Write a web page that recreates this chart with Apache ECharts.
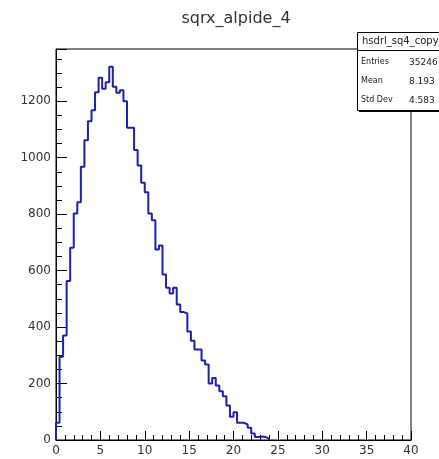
<!DOCTYPE html>
<html>
<head>
<meta charset="utf-8">
<script src="https://cdn.jsdelivr.net/npm/echarts@6/dist/echarts.min.js"></script>
<style>
  html, body { margin: 0; padding: 0; background: #fff; }
  #chart { width: 439px; height: 459px; }
</style>
</head>
<body>
<div id="chart"></div>
<script>
// histogram binning
const binLow = 0
const binWidth = 0.4
// bin contents, bins 0..59 (the rest are empty)
const counts = [
  61, 295, 370, 563, 681, 802, 842, 968, 1062, 1129,
  1168, 1232, 1283, 1244, 1267, 1322, 1251, 1230, 1239, 1200,
  1106, 1106, 1027, 972, 911, 878, 802, 778, 675, 689,
  586, 539, 519, 539, 480, 453, 448, 384, 352, 321,
  321, 282, 267, 200, 220, 193, 173, 155, 122, 82,
  98, 61, 61, 55, 43, 23, 11, 12, 11, 5
]
// stats box
const statNames = ['Entries', 'Mean', 'Std Dev']
const statValues = ['35246', '8.193', '4.583']

const font = 'DejaVu Sans'

// step outline points (left edge of each bin)
const points = [[binLow, 0]]
counts.forEach((c, i) => {
  points.push([binLow + i * binWidth, c])
})
points.push([binLow + counts.length * binWidth, 0])

const chart = echarts.init(document.getElementById('chart'))

const statText = []
statNames.forEach((name, i) => {
  statText.push({
    type: 'text', left: 361, top: 58 + i * 19, z: 12,
    style: { text: name, font: '8px "' + font + '"', fill: '#222' }
  })
  statText.push({
    type: 'text', left: 409, top: 58 + i * 19, z: 12,
    style: { text: statValues[i], font: '9px "' + font + '"', fill: '#222' }
  })
})

chart.setOption({
  animation: false,
  title: {
    text: 'sqrx_alpide_4',
    left: 231, top: 6, textAlign: 'center',
    textStyle: { fontFamily: font, fontSize: 16, fontWeight: 'normal', color: '#333' }
  },
  grid: {
    left: 56, top: 49, right: 28, bottom: 19,
    show: true, borderColor: '#000', borderWidth: 1
  },
  xAxis: {
    type: 'value', min: 0, max: 40, interval: 5,
    axisLine: { lineStyle: { color: '#000', width: 1 } },
    axisTick: { inside: true, length: 9, lineStyle: { color: '#000' } },
    minorTick: { show: true, splitNumber: 5, length: 5, lineStyle: { color: '#000' } },
    splitLine: { show: false },
    axisLabel: { fontFamily: font, fontSize: 12, color: '#333', margin: 5 }
  },
  yAxis: [
    {
      type: 'value', min: 0, max: 1385, interval: 200, position: 'left',
      axisLine: { show: true, lineStyle: { color: '#000', width: 1 } },
      axisTick: { show: true, inside: true, length: 11, lineStyle: { color: '#000' } },
      splitLine: { show: false },
      axisLabel: {
        fontFamily: font, fontSize: 12, color: '#333', margin: 5,
        formatter: v => (v % 200 === 0 ? String(v) : '')
      }
    },
    {
      // minor ticks every 50
      type: 'value', min: 0, max: 1385, interval: 50, position: 'left', offset: 0,
      axisLine: { show: false },
      axisTick: { show: true, inside: true, length: 6, lineStyle: { color: '#000' } },
      splitLine: { show: false },
      axisLabel: { show: false }
    }
  ],
  graphic: [
    {
      type: 'rect', z: 10,
      shape: { x: 359, y: 34, width: 100, height: 78 },
      style: { fill: '#000' }
    },
    {
      type: 'rect', z: 11,
      shape: { x: 357.5, y: 32.5, width: 100, height: 78 },
      style: { fill: '#fff', stroke: '#000', lineWidth: 1 }
    },
    {
      type: 'line', z: 11,
      shape: { x1: 357.5, y1: 50.5, x2: 460, y2: 50.5 },
      style: { stroke: '#000', lineWidth: 1 }
    },
    {
      type: 'text', left: 362, top: 36, z: 12,
      style: { text: 'hsdrl_sq4_copy', font: '10px "' + font + '"', fill: '#222' }
    }
  ].concat(statText),
  series: [
    {
      type: 'line',
      step: 'end',
      data: points,
      showSymbol: false,
      clip: true,
      lineStyle: { color: '#2020ac', width: 2 }
    }
  ]
})
</script>
</body>
</html>
